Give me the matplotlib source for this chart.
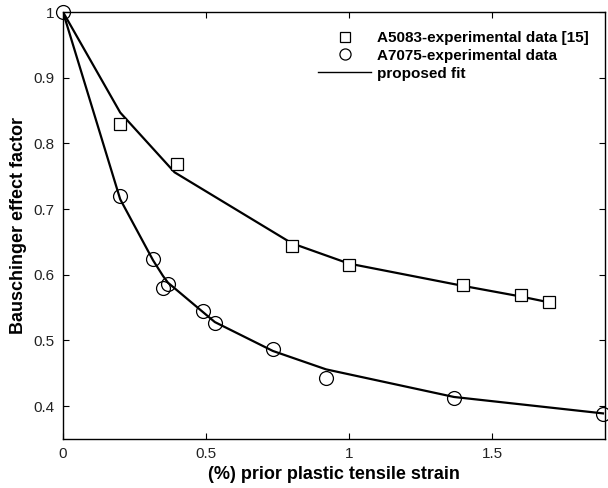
"""
Bauschinger effect factor vs prior plastic tensile strain (A5083 / A7075).
Output: out.png
"""
import matplotlib.pyplot as plt
import matplotlib as mpl
from matplotlib.lines import Line2D

# ---- Data ----
x_a5083 = [0.2, 0.4, 0.8, 1.0, 1.4, 1.6, 1.7]
y_a5083 = [0.83, 0.769, 0.644, 0.615, 0.585, 0.569, 0.559]

x_a5083_fit = [0.0, 0.2, 0.39, 0.8, 1.0, 1.4, 1.6, 1.7]
y_a5083_fit = [1.0, 0.847, 0.756, 0.648, 0.617, 0.583, 0.567, 0.558]

x_a7075 = [0.0, 0.2, 0.315, 0.35, 0.367, 0.49, 0.531, 0.734, 0.92, 1.367, 1.888]
y_a7075 = [1.0, 0.72, 0.624, 0.580, 0.586, 0.545, 0.527, 0.487, 0.443, 0.412, 0.388]

x_a7075_fit = [0.0, 0.2, 0.315, 0.35, 0.367, 0.49, 0.531, 0.734, 0.92, 1.367, 1.888]
y_a7075_fit = [1.0, 0.715, 0.622, 0.598, 0.588, 0.543, 0.528, 0.484, 0.456, 0.414, 0.389]

xticks = [0, 0.5, 1, 1.5]
xticklabels = ["0", "0.5", "1", "1.5"]
yticks = [0.4, 0.5, 0.6, 0.7, 0.8, 0.9, 1.0]
yticklabels = ["0.4", "0.5", "0.6", "0.7", "0.8", "0.9", "1"]

# ---- Style ----
mpl.rcParams.update({
    "font.family": ["Liberation Sans", "DejaVu Sans"],
    "font.size": 11,
    "axes.linewidth": 1.0,
    "xtick.direction": "in",
    "ytick.direction": "in",
    "xtick.top": True,
    "ytick.right": True,
    "xtick.major.size": 4,
    "ytick.major.size": 4,
})

fig = plt.figure(figsize=(6.08, 4.88), dpi=100)
ax = fig.add_axes([0.1036, 0.1004, 0.8914, 0.875])

ax.plot(x_a5083_fit, y_a5083_fit, color="black", linewidth=1.6, zorder=2)
ax.plot(x_a7075_fit, y_a7075_fit, color="black", linewidth=1.6, zorder=2)
ax.plot(x_a5083, y_a5083, linestyle="none", marker="s", markersize=9,
        markerfacecolor="white", markeredgecolor="black", markeredgewidth=0.9, zorder=3)
ax.plot(x_a7075, y_a7075, linestyle="none", marker="o", markersize=10,
        markerfacecolor="none", markeredgecolor="black", markeredgewidth=0.9,
        zorder=3, clip_on=False)

ax.set_xlim(0, 1.895)
ax.set_ylim(0.35, 1.0)
ax.set_xticks(xticks)
ax.set_xticklabels(xticklabels)
ax.set_yticks(yticks)
ax.set_yticklabels(yticklabels)
ax.tick_params(labelsize=11, colors="black", labelcolor="#222222", pad=6)

ax.set_xlabel("(%) prior plastic tensile strain", fontsize=13, fontweight="bold", labelpad=3)
ax.set_ylabel("Bauschinger effect factor", fontsize=13, fontweight="bold", labelpad=5)

handles = [
    Line2D([], [], linestyle="none", marker="s", markersize=7,
           markerfacecolor="white", markeredgecolor="black", markeredgewidth=0.9),
    Line2D([], [], linestyle="none", marker="o", markersize=8,
           markerfacecolor="white", markeredgecolor="black", markeredgewidth=0.9),
    Line2D([], [], color="black", linewidth=1.0),
]
labels = ["A5083-experimental data [15]", "A7075-experimental data", "proposed fit"]
leg = ax.legend(handles, labels, loc="upper left",
                bbox_to_anchor=(318 / 608, 1 - 31 / 488), bbox_transform=fig.transFigure,
                frameon=False, handlelength=3.5, handletextpad=0.35,
                labelspacing=0.25, borderpad=0, borderaxespad=0,
                prop={"weight": "bold", "size": 11})

fig.savefig("out.png", dpi=100, facecolor="white")
